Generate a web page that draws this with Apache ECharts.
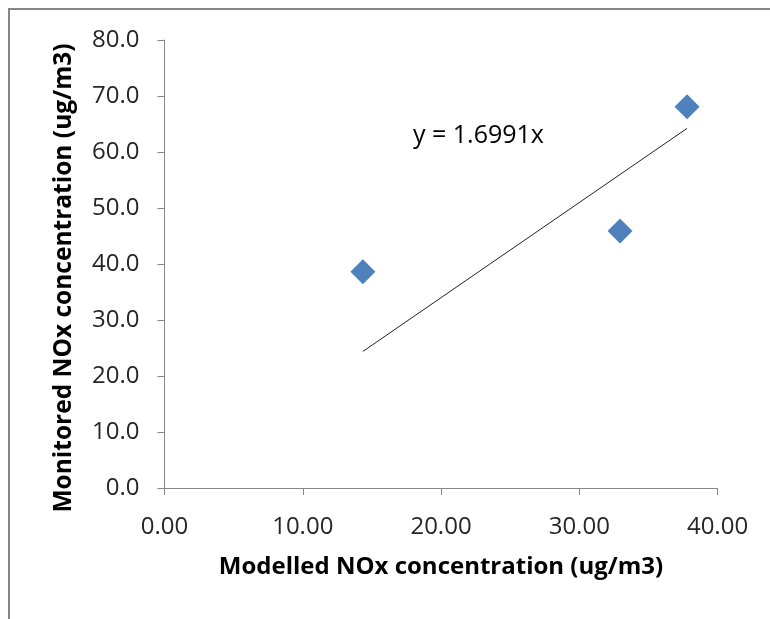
<!DOCTYPE html>
<html>
<head>
<meta charset="utf-8">
<script src="https://cdn.jsdelivr.net/npm/echarts@6/dist/echarts.min.js"></script>
<style>
html,body{margin:0;padding:0;background:#fff;}
#chart{width:770px;height:619px;}
</style>
</head>
<body>
<div id="chart"></div>
<script>
// Data
const modelled = [14.35, 32.95, 37.8];
const monitored = [38.6, 45.9, 68.1];
const trendSlope = 1.6991;
const xTicks = [0, 10, 20, 30, 40];
const yTicks = [0, 10, 20, 30, 40, 50, 60, 70, 80];
const xTitle = 'Modelled NOx concentration (ug/m3)';
const yTitle = 'Monitored NOx concentration (ug/m3)';
const equationText = 'y = 1.6991x';

const points = modelled.map((x, i) => [x, monitored[i]]);
const xMinD = Math.min(...modelled), xMaxD = Math.max(...modelled);
const trendLine = [[xMinD, trendSlope * xMinD], [xMaxD, trendSlope * xMaxD]];

const FONT = 'Open Sans';
const chart = echarts.init(document.getElementById('chart'), null, {renderer: 'canvas'});
chart.setOption({
  animation: false,
  backgroundColor: '#fff',
  grid: {left: 164.5, right: 52.5, top: 40, bottom: 131, containLabel: false},
  xAxis: {
    type: 'value', min: xTicks[0], max: xTicks[xTicks.length - 1], interval: 10,
    splitLine: {show: false},
    axisLine: {show: true, onZero: false, lineStyle: {color: '#868686', width: 1}},
    axisTick: {show: true, length: 7, lineStyle: {color: '#868686'}},
    axisLabel: {color: '#262626', fontFamily: FONT, fontSize: 24, margin: 27,
      formatter: v => v.toFixed(2)},
    name: xTitle, nameLocation: 'middle', nameGap: 67,
    nameTextStyle: {color: '#000', fontFamily: FONT, fontWeight: 'bold', fontSize: 24}
  },
  yAxis: {
    type: 'value', min: yTicks[0], max: yTicks[yTicks.length - 1], interval: 10,
    splitLine: {show: false},
    axisLine: {show: true, onZero: false, lineStyle: {color: '#868686', width: 1}},
    axisTick: {show: true, length: 7, lineStyle: {color: '#868686'}},
    axisLabel: {color: '#262626', fontFamily: FONT, fontSize: 24, margin: 25,
      formatter: v => v.toFixed(1)}
  },
  series: [
    {
      type: 'line', data: trendLine, symbol: 'none', silent: true,
      lineStyle: {color: '#222', width: 1}, z: 2
    },
    {
      type: 'scatter', data: points, symbol: 'diamond', symbolSize: [25, 25],
      itemStyle: {color: '#4F81BD', opacity: 1}, z: 3
    }
  ],
  graphic: [
    {type: 'polyline', shape: {points: [[9, 619], [9, 9], [770, 9]]},
      style: {stroke: '#868686', lineWidth: 2, fill: null}, silent: true},
    {type: 'text', left: 413, top: 123,
      style: {text: equationText, fontFamily: FONT, fontSize: 25, fill: '#000'}},
    {type: 'text', x: 64, y: 278, rotation: Math.PI / 2,
      style: {text: yTitle, fontFamily: FONT, fontWeight: 'bold', fontSize: 24.5,
        fill: '#000', align: 'center', verticalAlign: 'middle'}}
  ]
});
</script>
</body>
</html>
